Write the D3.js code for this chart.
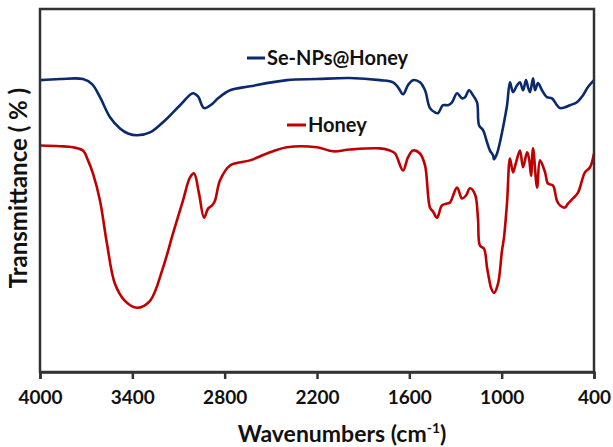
<!DOCTYPE html>
<html><head><meta charset="utf-8">
<script src="https://cdn.jsdelivr.net/npm/d3@7"></script>
<style>body{margin:0;background:#fff;}svg{display:block;}</style>
</head><body>
<svg id="c" width="613" height="447"></svg>
<script>
// Wavenumber (cm-1) / transmittance (arbitrary %) pairs
const seNPsWavenumbers = [4000,3870,3721,3662,3610,3545,3480,3428,3370,3285,3188,3090,3006,2973,2934,2882,2843,2765,2635,2395,2200,1986,1791,1706,1674,1641,1609,1576,1531,1498,1466,1433,1414,1381,1349,1323,1290,1258,1238,1212,1186,1160,1147,1121,1095,1076,1056,1050,1030,1011,991,965,946,926,900,881,861,842,829,816,796,783,764,738,706,673,641,621,589,556,511,472,439,400];
const seNPsValues = [80.4,80.7,80.7,79.3,75.7,70.2,67.1,65.7,65.2,66.0,69.3,73.5,76.8,75.9,72.7,73.8,75.4,77.6,78.7,80.4,80.7,81.0,80.4,79.8,78.5,76.5,79.0,80.4,79.8,77.6,72.7,71.5,71.3,73.5,73.5,74.3,76.8,75.4,75.7,77.6,76.2,74.3,68.0,66.6,63.3,61.0,59.7,58.6,60.2,63.3,67.4,73.5,79.8,77.1,79.0,79.8,77.6,80.4,78.5,77.1,80.9,77.6,79.6,77.6,75.7,75.4,73.5,72.7,72.9,73.5,74.3,76.2,78.5,80.4];

const honeyWavenumbers = [4000,3870,3786,3721,3688,3656,3610,3565,3513,3448,3370,3285,3201,3136,3071,3025,2999,2967,2934,2908,2882,2863,2830,2765,2635,2525,2395,2200,2096,1986,1791,1726,1693,1641,1609,1576,1531,1498,1466,1446,1420,1388,1355,1336,1290,1258,1232,1206,1173,1154,1141,1115,1095,1082,1069,1050,1024,998,985,965,946,926,907,881,861,835,822,809,796,770,751,718,699,667,641,621,589,569,537,504,459,426,400];
const honeyValues = [62.4,62.2,61.9,61.0,58.3,54.7,47.2,35.4,24.3,19.6,17.7,19.6,28.7,38.1,47.2,53.6,54.7,49.2,42.5,45.0,45.9,47.2,52.8,56.9,58.3,60.2,61.9,61.9,60.8,61.3,61.6,61.0,60.2,55.5,59.1,61.0,60.2,56.9,45.3,44.2,42.5,45.9,46.4,46.7,50.8,47.8,48.6,50.6,48.9,42.3,34.8,34.0,28.7,25.7,23.2,21.8,24.3,33.4,37.0,46.7,58.8,55.0,57.7,61.0,56.4,60.5,58.8,54.1,61.6,50.8,58.3,55.0,51.9,51.4,47.2,45.9,45.3,46.4,47.8,49.4,55.0,56.4,60.2];

const xTicks = [4000,3400,2800,2200,1600,1000,400];
const seriesNames = ["Se-NPs@Honey","Honey"];
const seriesColors = ["#0b2a6e","#c00000"];

const svg = d3.select("#c");
const m = {l:40, r:594, t:9, b:372};
const x = d3.scaleLinear().domain([4000,400]).range([m.l, m.r]);
const y = d3.scaleLinear().domain([0,100]).range([m.b, m.t]);
const font = "Lato, 'Open Sans', sans-serif";

const line = d3.line().x(d=>x(d[0])).y(d=>y(d[1])).curve(d3.curveCatmullRom.alpha(0.5));
const series = [
  d3.zip(seNPsWavenumbers, seNPsValues),
  d3.zip(honeyWavenumbers, honeyValues)
];
series.forEach((s,i)=>{
  svg.append("path").datum(s).attr("d", line)
    .attr("fill","none").attr("stroke", seriesColors[i])
    .attr("stroke-width", 2.6).attr("stroke-linejoin","round");
});

// frame
svg.append("rect").attr("x", m.l).attr("y", m.t).attr("width", m.r-m.l).attr("height", m.b-m.t)
  .attr("fill","none").attr("stroke","#333").attr("stroke-width",2.5);

// x axis
const ax = svg.append("g").attr("transform",`translate(0,${m.b})`)
  .call(d3.axisBottom(x).tickValues(xTicks).tickSize(7).tickPadding(12).tickFormat(d3.format("d")));
ax.select(".domain").attr("stroke","#333").attr("stroke-width",2.5);
ax.selectAll(".tick line").attr("stroke","#333").attr("stroke-width",2.5);
ax.selectAll(".tick text").attr("font-family",font).attr("font-weight","bold")
  .attr("font-size",19).attr("fill","#111").attr("dy",null).attr("y",32);

// axis titles
const xt = svg.append("text").attr("x",342).attr("y",442).attr("text-anchor","middle")
  .attr("font-family",font).attr("font-weight","bold").attr("font-size",23).attr("fill","#111");
xt.append("tspan").text("Wavenumbers (cm");
xt.append("tspan").text("-1").attr("font-size",14).attr("dy",-9);
xt.append("tspan").text(")").attr("dy",9);

svg.append("text").attr("transform","translate(27,188) rotate(-90)").attr("text-anchor","middle")
  .attr("font-family",font).attr("font-weight","bold").attr("font-size",24).attr("fill","#111")
  .text("Transmittance ( % )");

// legend labels
const legend = [
  {x1:247, x2:265, y:58, tx:267, ty:65},
  {x1:287, x2:306, y:125, tx:308, ty:132}
];
legend.forEach((l,i)=>{
  svg.append("line").attr("x1",l.x1).attr("x2",l.x2).attr("y1",l.y).attr("y2",l.y)
    .attr("stroke",seriesColors[i]).attr("stroke-width",3);
  svg.append("text").attr("x",l.tx).attr("y",l.ty).attr("font-family",font)
    .attr("font-weight","bold").attr("font-size",20).attr("fill","#111").text(seriesNames[i]);
});
</script>
</body></html>
